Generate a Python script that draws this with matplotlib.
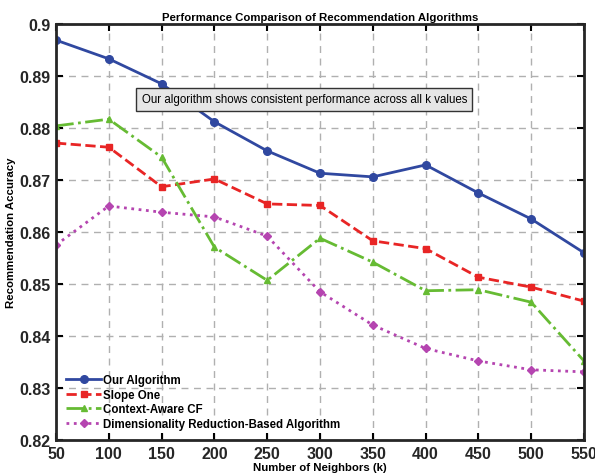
import numpy as np
import matplotlib.pyplot as plt

# data
k_values = [50, 100, 150, 200, 250, 300, 350, 400, 450, 500, 550]
our_alg = [0.8969, 0.8933, 0.8885, 0.8812, 0.8756, 0.8713, 0.8706, 0.8729, 0.8675, 0.8625, 0.8560]
slope_one = [0.8771, 0.8763, 0.8687, 0.8702, 0.8654, 0.8651, 0.8583, 0.8568, 0.8513, 0.8494, 0.8467]
context_cf = [0.8804, 0.8817, 0.8744, 0.8571, 0.8507, 0.8588, 0.8542, 0.8487, 0.8489, 0.8465, 0.8352]
dim_red = [0.8575, 0.8650, 0.8638, 0.8629, 0.8592, 0.8485, 0.8421, 0.8376, 0.8352, 0.8335, 0.8331]

labels = ['Our Algorithm', 'Slope One', 'Context-Aware CF', 'Dimensionality Reduction-Based Algorithm']
x_ticks = [50, 100, 150, 200, 250, 300, 350, 400, 450, 500, 550]
y_ticks = [0.82, 0.83, 0.84, 0.85, 0.86, 0.87, 0.88, 0.89, 0.9]
y_tick_labels = ['0.82', '0.83', '0.84', '0.85', '0.86', '0.87', '0.88', '0.89', '0.9']

plt.rcParams['font.family'] = ['Liberation Sans', 'DejaVu Sans']

fig = plt.figure(figsize=(5.95, 4.77), dpi=100)
ax = fig.add_axes([0.0941, 0.0755, 0.8874, 0.8721])

ax.plot(k_values, our_alg, '-o', color='#3048a0', lw=2, ms=5.5, label=labels[0])
ax.plot(k_values, slope_one, '--s', color='#e82525', lw=2, ms=4.5, label=labels[1])
ax.plot(k_values, context_cf, '-.^', color='#66bb33', lw=2, ms=5, label=labels[2])
ax.plot(k_values, dim_red, ':D', color='#b545b0', lw=2, ms=4.5, label=labels[3])

ax.set_xlim(50, 550)
ax.set_ylim(0.82, 0.9)
ax.set_xticks(x_ticks)
ax.set_yticks(y_ticks)
ax.set_yticklabels(y_tick_labels)
ax.grid(True, color='#b0b0b0', linestyle=(0, (5, 4)), lw=1)
ax.tick_params(direction='in', top=True, right=True, length=5, width=1.5,
               labelsize=11.5, pad=4)
for t in ax.get_xticklabels() + ax.get_yticklabels():
    t.set_fontweight('bold')
    t.set_color('#262626')
for s in ax.spines.values():
    s.set_linewidth(2)
    s.set_color('#262626')

ax.set_title('Performance Comparison of Recommendation Algorithms',
             fontsize=8.2, fontweight='bold', pad=3)
ax.set_xlabel('Number of Neighbors (k)', fontsize=8.2, fontweight='bold', labelpad=1)
ax.set_ylabel('Recommendation Accuracy', fontsize=8.2, fontweight='bold', labelpad=2)

ax.text(131, 0.8855, 'Our algorithm shows consistent performance across all k values',
        fontsize=8.3, va='center', ha='left',
        bbox=dict(boxstyle='square,pad=0.45', facecolor='#e6e6e6', edgecolor='#333333', lw=1))

leg = ax.legend(loc='lower left', frameon=False, fontsize=8.3, handlelength=3.0,
                handletextpad=0.2, labelspacing=0.22, borderaxespad=0.5)
for t in leg.get_texts():
    t.set_fontweight('bold')

fig.savefig('out.png', dpi=100)
